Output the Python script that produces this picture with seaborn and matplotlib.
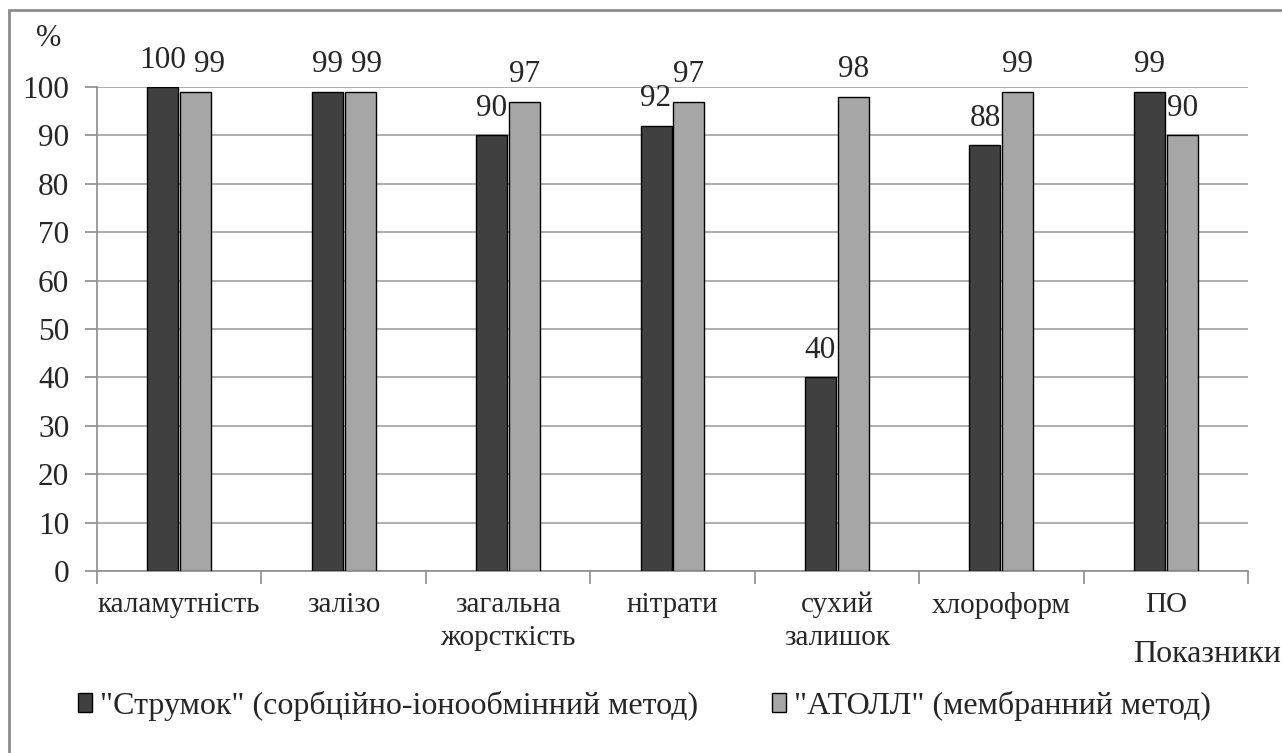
import matplotlib
matplotlib.use("Agg")
import matplotlib.pyplot as plt
from matplotlib.patches import Rectangle
import numpy as np
import pandas as pd
import seaborn as sns

# Indicators and removal efficiency (%) for the two treatment plants
categories = ["каламутність", "залізо", "загальна\nжорсткість", "нітрати",
              "сухий\nзалишок", "хлороформ", "ПО"]
series_names = ['"Струмок" (сорбційно-іонообмінний метод)',
                '"АТОЛЛ" (мембранний метод)']
strumok = [100, 99, 90, 92, 40, 88, 99]
atoll = [99, 99, 97, 97, 98, 99, 90]
y_ticks = list(range(0, 101, 10))

colors = ["#404040", "#a6a6a6"]

df = pd.DataFrame({
    "Показник": categories * 2,
    "Значення": strumok + atoll,
    "Метод": [series_names[0]] * len(categories) + [series_names[1]] * len(categories),
})

sns.set_style("white")
plt.rcParams["font.family"] = ["Liberation Serif", "DejaVu Serif"]
FS = 22.5      # tick numbers and value labels
FS_CAT = 21    # category names
FS_LEG = 23    # legend and axis caption
DPI = 100

fig = plt.figure(figsize=(12.82, 7.53), dpi=DPI)
W, H = 1282, 753
ax = fig.add_axes([97 / W, 1 - 571 / H, (1248 - 97) / W, (571 - 87) / H])

sns.barplot(data=df, x="Показник", y="Значення", hue="Метод",
            hue_order=series_names, order=categories, palette=colors,
            width=0.4, gap=0.06, edgecolor="black", linewidth=1.0,
            saturation=1, ax=ax, legend=True, zorder=3)

ax.set_xlim(-0.5, len(categories) - 0.5)
ax.set_ylim(0, 100)
ax.set_yticks(y_ticks)
ax.set_xlabel("")
ax.set_ylabel("")

# Horizontal gridlines
ax.yaxis.grid(True, color="#a8a8a8", linewidth=1.3, zorder=0)
ax.xaxis.grid(False)
ax.set_axisbelow(True)

for s in ["top", "right"]:
    ax.spines[s].set_visible(False)
for s in ["left", "bottom"]:
    ax.spines[s].set_color("#8c8c8c")
    ax.spines[s].set_linewidth(1.2)

ax.tick_params(axis="y", which="major", length=9, width=1.2, color="#8c8c8c",
               labelsize=FS, pad=11, left=True)
# category names centred, separator ticks between categories
ax.set_xticks(range(len(categories)))
ax.set_xticklabels(categories, fontsize=FS_CAT, linespacing=1.35, va="top")
ax.tick_params(axis="x", which="major", length=0, pad=15)
ax.set_xticks(np.arange(-0.5, len(categories), 1.0), minor=True)
ax.tick_params(axis="x", which="minor", length=9, width=1.2, color="#8c8c8c",
               bottom=True)

# Value labels above bars
label_sets = [ax.bar_label(cont, fmt="%g", fontsize=FS, padding=9, clip_on=False)
              for cont in ax.containers]

# Nudge the right-hand label sideways where two labels at similar height collide
fig.canvas.draw()
renderer = fig.canvas.get_renderer()
min_gap = 8  # px
for left_txt, right_txt in zip(label_sets[0], label_sets[1]):
    b0 = left_txt.get_window_extent(renderer)
    b1 = right_txt.get_window_extent(renderer)
    same_row = abs((b0.y0 + b0.y1) / 2 - (b1.y0 + b1.y1) / 2) < 0.5 * b0.height
    if same_row and b1.x0 < b0.x1 + min_gap:
        shift_px = b0.x1 + min_gap - b1.x0
        dx, dy = right_txt.xyann
        right_txt.xyann = (dx + shift_px * 72 / DPI, dy)

# Legend below the chart
handles, labels = ax.get_legend_handles_labels()
ax.get_legend().remove()
fig.legend(handles, labels, loc="center left",
           bbox_to_anchor=(78 / W, 1 - 706 / H), ncol=2, frameon=False,
           fontsize=FS_LEG, handlelength=0.45, handleheight=0.55,
           handletextpad=0.25, columnspacing=2.3, borderpad=0, borderaxespad=0)

# Axis captions
fig.text(49 / W, 1 - 38 / H, "%", fontsize=22, ha="center", va="center")
fig.text(1281 / W, 1 - 654 / H, "Показники", fontsize=FS_LEG, ha="right", va="center")

# Outer frame
fig.add_artist(Rectangle((9 / W, -0.1), 1.2, 1.1 - 10 / H, transform=fig.transFigure,
                         fill=False, edgecolor="#8c8c8c", linewidth=2))

fig.savefig("out.png", dpi=DPI, facecolor="white")
